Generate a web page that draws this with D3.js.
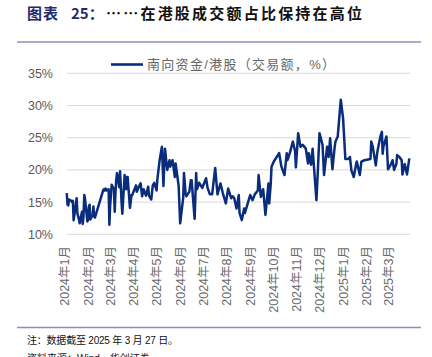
<!DOCTYPE html>
<html><head><meta charset="utf-8">
<script src="https://cdn.jsdelivr.net/npm/d3@7/dist/d3.min.js"></script>
<style>
html,body{margin:0;padding:0;background:#fff;}
svg{display:block;}
text{font-family:"Liberation Sans",Arial,"Noto Sans CJK SC",sans-serif;}
</style></head>
<body>
<svg id="c" width="432" height="357"></svg>
<script>
const dates = ["2024-01-02","2024-01-03","2024-01-04","2024-01-05","2024-01-08","2024-01-09","2024-01-10","2024-01-11","2024-01-12","2024-01-15","2024-01-16","2024-01-17","2024-01-18","2024-01-19","2024-01-22","2024-01-23","2024-01-24","2024-01-25","2024-01-26","2024-01-29","2024-01-30","2024-01-31","2024-02-01","2024-02-02","2024-02-05","2024-02-06","2024-02-07","2024-02-08","2024-02-19","2024-02-20","2024-02-21","2024-02-22","2024-02-23","2024-02-26","2024-02-27","2024-02-28","2024-02-29","2024-03-01","2024-03-04","2024-03-05","2024-03-06","2024-03-07","2024-03-08","2024-03-11","2024-03-12","2024-03-13","2024-03-14","2024-03-15","2024-03-18","2024-03-19","2024-03-20","2024-03-21","2024-03-22","2024-03-25","2024-03-26","2024-03-27","2024-03-28","2024-04-02","2024-04-03","2024-04-05","2024-04-08","2024-04-10","2024-04-12","2024-04-15","2024-04-16","2024-04-18","2024-04-19","2024-04-22","2024-04-24","2024-04-26","2024-04-29","2024-04-30","2024-05-03","2024-05-06","2024-05-08","2024-05-10","2024-05-13","2024-05-16","2024-05-17","2024-05-20","2024-05-23","2024-05-24","2024-05-28","2024-05-30","2024-06-03","2024-06-04","2024-06-06","2024-06-07","2024-06-11","2024-06-13","2024-06-14","2024-06-18","2024-06-20","2024-06-21","2024-06-24","2024-06-28","2024-07-03","2024-07-05","2024-07-08","2024-07-11","2024-07-15","2024-07-18","2024-07-22","2024-07-25","2024-07-29","2024-08-01","2024-08-05","2024-08-07","2024-08-09","2024-08-12","2024-08-15","2024-08-16","2024-08-19","2024-08-22","2024-08-23","2024-08-28","2024-08-30","2024-09-02","2024-09-05","2024-09-09","2024-09-10","2024-09-13","2024-09-16","2024-09-19","2024-09-23","2024-09-24","2024-09-26","2024-09-27","2024-09-30","2024-10-07","2024-10-10","2024-10-14","2024-10-17","2024-10-18","2024-10-21","2024-10-25","2024-10-28","2024-10-29","2024-11-01","2024-11-04","2024-11-07","2024-11-11","2024-11-14","2024-11-15","2024-11-18","2024-11-20","2024-11-25","2024-11-27","2024-11-29","2024-12-03","2024-12-05","2024-12-09","2024-12-11","2024-12-13","2024-12-16","2024-12-19","2024-12-20","2024-12-23","2024-12-27","2024-12-30","2025-01-02","2025-01-06","2025-01-08","2025-01-10","2025-01-13","2025-01-16","2025-01-17","2025-01-21","2025-01-23","2025-01-27","2025-02-04","2025-02-05","2025-02-07","2025-02-11","2025-02-13","2025-02-17","2025-02-19","2025-02-20","2025-02-21","2025-02-25","2025-02-27","2025-03-03","2025-03-05","2025-03-07","2025-03-10","2025-03-11","2025-03-14","2025-03-17","2025-03-18","2025-03-21","2025-03-24","2025-03-27"];
const values = [16.4,14.6,14.5,15.4,15.2,15.0,15.2,12.2,13.0,15.6,13.2,12.8,12.3,11.7,13.5,11.6,12.8,16.1,15.5,12.0,12.3,14.3,14.6,12.3,13.0,14.3,12.8,12.6,16.9,17.0,16.8,17.1,16.8,17.0,11.5,14.5,16.0,17.7,17.0,13.5,16.5,18.5,19.5,17.3,19.8,17.5,15.0,13.2,19.2,17.6,17.0,18.9,18.9,14.1,15.0,16.1,16.1,17.6,16.6,17.2,17.9,15.9,17.0,16.0,16.4,17.4,16.0,15.4,17.6,18.0,16.8,18.5,21.5,23.6,17.5,23.3,20.0,21.5,20.5,21.5,18.9,21.0,17.5,11.7,15.7,19.5,16.5,15.9,16.6,18.4,18.4,12.4,19.5,17.0,18.0,17.2,18.7,17.2,16.2,16.2,20.3,16.2,17.9,16.4,14.8,17.1,15.6,15.9,15.6,14.0,16.1,13.3,12.2,14.0,13.3,15.3,16.1,15.3,16.2,16.8,19.2,15.8,17.0,13.0,17.9,14.8,17.9,20.5,21.3,22.6,20.5,19.2,22.6,21.5,22.6,24.4,22.9,20.4,25.7,23.6,23.9,23.3,21.0,22.6,20.8,23.3,15.3,20.2,25.7,23.9,19.2,23.6,22.0,24.9,20.1,23.6,24.4,25.2,30.9,28.0,21.7,21.7,22.0,19.9,18.9,20.8,21.3,19.2,21.3,21.5,21.7,24.4,23.6,20.7,22.8,25.2,25.9,22.5,23.6,25.2,20.1,20.9,21.5,20.0,20.9,22.3,22.0,21.5,19.3,20.9,19.3,21.8];
const yTicks = [10,15,20,25,30,35];
const monthTicks = ["2024-01-01","2024-02-01","2024-03-01","2024-04-01","2024-05-01","2024-06-01","2024-07-01","2024-08-01","2024-09-01","2024-10-01","2024-11-01","2024-12-01","2025-01-01","2025-02-01","2025-03-01"];
const seriesName = "南向资金/港股（交易额，%）";

const parse = d3.timeParse("%Y-%m-%d");
const data = dates.map((d,i)=>({date:parse(d), v:values[i]}));
const svg = d3.select("#c");

const x = d3.scaleTime().domain([parse("2024-01-01"), parse("2025-03-27")]).range([66, 409.3]);
const y = d3.scaleLinear().domain([10,35]).range([234.3, 73.3]);

// title
svg.append("text").attr("x", 27).attr("y", 19).attr("font-size", 15).attr("font-weight","bold")
  .attr("fill", "#1f2a6e").style("font-family","'Noto Sans CJK SC',sans-serif")
  .attr("textLength", 31).attr("lengthAdjust","spacing").text("图表");
svg.append("text").attr("x", 71).attr("y", 19).attr("font-size", 15).attr("font-weight","bold")
  .attr("fill", "#1f2a6e").style("font-family","'Noto Sans CJK SC',sans-serif").text("25：");
svg.append("text").attr("x", 106).attr("y", 19).attr("font-size", 15).attr("font-weight","bold")
  .attr("fill", "#111").style("font-family","'Noto Sans CJK SC',sans-serif")
  .attr("textLength", 256).attr("lengthAdjust","spacing").text("……在港股成交额占比保持在高位");

// rules
svg.append("line").attr("x1",17).attr("x2",421).attr("y1",42).attr("y2",42)
  .attr("stroke","#8e8eb8").attr("stroke-width",1.5);
svg.append("line").attr("x1",17).attr("x2",421).attr("y1",327.5).attr("y2",327.5)
  .attr("stroke","#8e8eb8").attr("stroke-width",1.5);

// gridlines
svg.append("g").selectAll("line").data(yTicks).join("line")
  .attr("x1",67).attr("x2",410).attr("y1",d=>y(d)).attr("y2",d=>y(d))
  .attr("stroke","#d9d9d9").attr("stroke-width",1);

// y labels
svg.append("g").selectAll("text").data(yTicks).join("text")
  .attr("x",53).attr("y",d=>y(d)).attr("dy","0.36em").attr("text-anchor","end")
  .attr("font-size",12.5).attr("fill","#595959").text(d=>d+"%");

// x labels
svg.append("g").selectAll("text").data(monthTicks).join("text")
  .attr("transform", d=>`translate(${x(parse(d))-1.5},246) rotate(-90)`)
  .attr("dy","0.36em").attr("text-anchor","end")
  .attr("font-size",12.5).attr("fill","#6a6a6a")
  .text(d=>{const dt=parse(d); return dt.getFullYear()+"年"+(dt.getMonth()+1)+"月";});

// line
const line = d3.line().x(d=>x(d.date)).y(d=>y(d.v));
svg.append("path").datum(data).attr("d",line).attr("fill","none")
  .attr("stroke","#0a2c7c").attr("stroke-width",2.5).attr("stroke-linejoin","round");

// legend
svg.append("line").attr("x1",111).attr("x2",143).attr("y1",64.5).attr("y2",64.5)
  .attr("stroke","#0a2c7c").attr("stroke-width",2.6);
svg.append("text").attr("x",147).attr("y",64.5).attr("dy","0.36em").attr("font-size",13)
  .attr("fill","#666").attr("textLength",188).attr("lengthAdjust","spacing").text(seriesName);

// footer
svg.append("text").attr("x",27).attr("y",343.5).attr("font-size",10).attr("fill","#111")
  .attr("textLength",151).attr("lengthAdjust","spacing").text("注：数据截至 2025 年 3 月 27 日。");
svg.append("text").attr("x",27).attr("y",362).attr("font-size",10).attr("fill","#111")
  .text("资料来源：Wind，华创证券");
</script>
</body></html>
